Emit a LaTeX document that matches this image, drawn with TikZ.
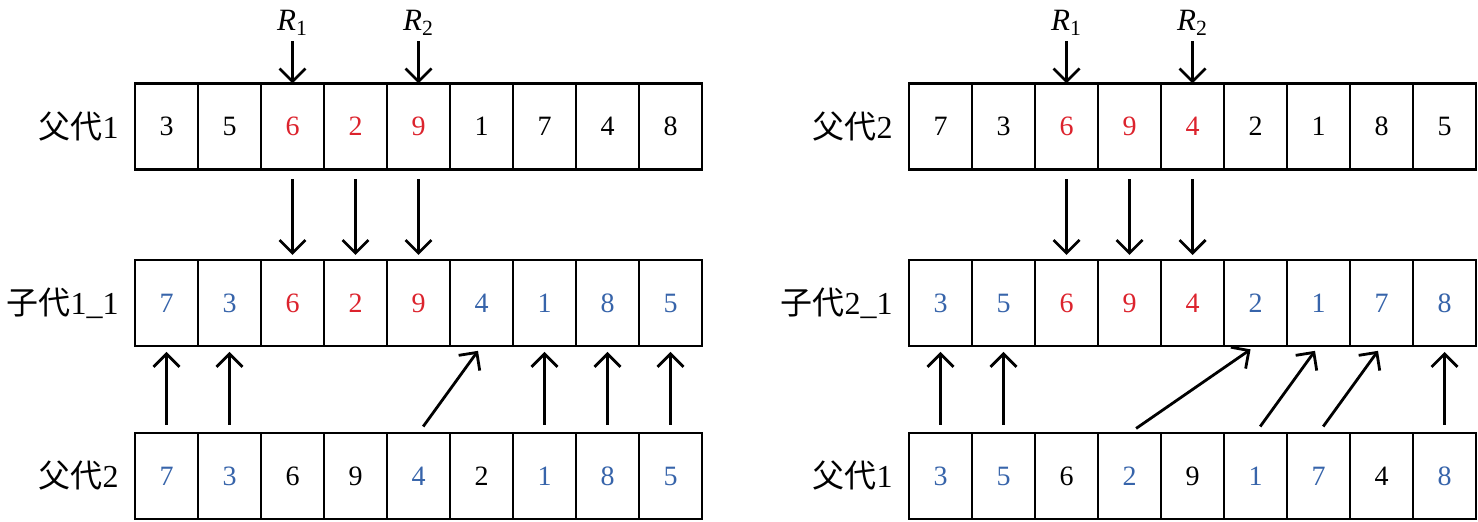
\documentclass[tikz,border=0pt]{standalone}
\usepackage{fontspec}
\setmainfont{Liberation Serif}
\newfontfamily\cjk{Noto Sans CJK SC}
\usetikzlibrary{arrows.meta, positioning}
\definecolor{genred}{RGB}{220,35,45}
\definecolor{genblue}{RGB}{55,100,170}

\begin{document}
\begin{tikzpicture}[x=0.5pt, y=0.5pt,
		cell/.style={rectangle, draw=black, line width=1.4pt, minimum width=31.5pt, minimum height=43pt, inner sep=0pt, outer sep=0pt, font=\fontsize{14}{16}\selectfont},
		tag/.style={inner sep=0pt, font=\fontsize{16}{18}\selectfont},
		cut/.style={inner sep=0pt, font=\fontsize{15.5}{17}\selectfont},
		arrow/.style={-{Straight Barb[length=6.5pt, width=13pt, line width=1.4pt]}, line width=1.4pt}
		]
		\useasboundingbox (0,0) rectangle (1478,522);
		
		% left half: parent 1 x parent 2
		\foreach \v/\c [count=\i] in {3/black,5/black,6/genred,2/genred,9/genred,1/black,7/black,4/black,8/black}
			\node[cell, text=\c] (pa-\i) at ({135+63*(\i-0.5)}, 395.5) {\v};
		\foreach \v/\c [count=\i] in {7/genblue,3/genblue,6/genred,2/genred,9/genred,4/genblue,1/genblue,8/genblue,5/genblue}
			\node[cell, text=\c] (ca-\i) at ({135+63*(\i-0.5)}, 219) {\v};
		\foreach \v/\c [count=\i] in {7/genblue,3/genblue,6/black,9/black,4/genblue,2/black,1/genblue,8/genblue,5/genblue}
			\node[cell, text=\c] (pb-\i) at ({135+63*(\i-0.5)}, 46) {\v};
		
		\node[tag, left=8pt of pa-1] (la) {{\cjk 父代}1};
		\node[tag, left=8pt of ca-1] (lb) {{\cjk 子代}1\_1};
		\node[tag, left=8pt of pb-1] (lc) {{\cjk 父代}2};
		
		\node[cut, above=24pt of pa-3] (r1) {\textit{R}\textsubscript{1}};
		\node[cut, above=24pt of pa-5] (r2) {\textit{R}\textsubscript{2}};
		\draw[arrow, shorten <=3pt] (r1) -- (pa-3.north);
		\draw[arrow, shorten <=3pt] (r2) -- (pa-5.north);
		
		\foreach \i in {3,4,5}
			\draw[arrow, shorten <=5pt, shorten >=2.5pt] (pa-\i.south) -- (ca-\i.north);
		\foreach \i in {1,2,7,8,9}
			\draw[arrow, shorten <=4pt, shorten >=3pt] (pb-\i.north) -- (ca-\i.south);
		\draw[arrow, shorten <=4pt, shorten >=3pt] (pb-5.north) -- (ca-6.south);
		
		% right half: parent 2 x parent 1
		\foreach \v/\c [count=\i] in {7/black,3/black,6/genred,9/genred,4/genred,2/black,1/black,8/black,5/black}
			\node[cell, text=\c] (pc-\i) at ({909+63*(\i-0.5)}, 395.5) {\v};
		\foreach \v/\c [count=\i] in {3/genblue,5/genblue,6/genred,9/genred,4/genred,2/genblue,1/genblue,7/genblue,8/genblue}
			\node[cell, text=\c] (cc-\i) at ({909+63*(\i-0.5)}, 219) {\v};
		\foreach \v/\c [count=\i] in {3/genblue,5/genblue,6/black,2/genblue,9/black,1/genblue,7/genblue,4/black,8/genblue}
			\node[cell, text=\c] (pd-\i) at ({909+63*(\i-0.5)}, 46) {\v};
		
		\node[tag, left=8pt of pc-1] (ld) {{\cjk 父代}2};
		\node[tag, left=8pt of cc-1] (le) {{\cjk 子代}2\_1};
		\node[tag, left=8pt of pd-1] (lf) {{\cjk 父代}1};
		
		\node[cut, above=24pt of pc-3] (r3) {\textit{R}\textsubscript{1}};
		\node[cut, above=24pt of pc-5] (r4) {\textit{R}\textsubscript{2}};
		\draw[arrow, shorten <=3pt] (r3) -- (pc-3.north);
		\draw[arrow, shorten <=3pt] (r4) -- (pc-5.north);
		
		\foreach \i in {3,4,5}
			\draw[arrow, shorten <=5pt, shorten >=2.5pt] (pc-\i.south) -- (cc-\i.north);
		\foreach \i in {1,2,9}
			\draw[arrow, shorten <=4pt, shorten >=3pt] (pd-\i.north) -- (cc-\i.south);
		\draw[arrow, shorten <=4pt, shorten >=3pt] (pd-4.north) -- (cc-6.south);
		\draw[arrow, shorten <=4pt, shorten >=3pt] (pd-6.north) -- (cc-7.south);
		\draw[arrow, shorten <=4pt, shorten >=3pt] (pd-7.north) -- (cc-8.south);
		
	\end{tikzpicture}
\end{document}
